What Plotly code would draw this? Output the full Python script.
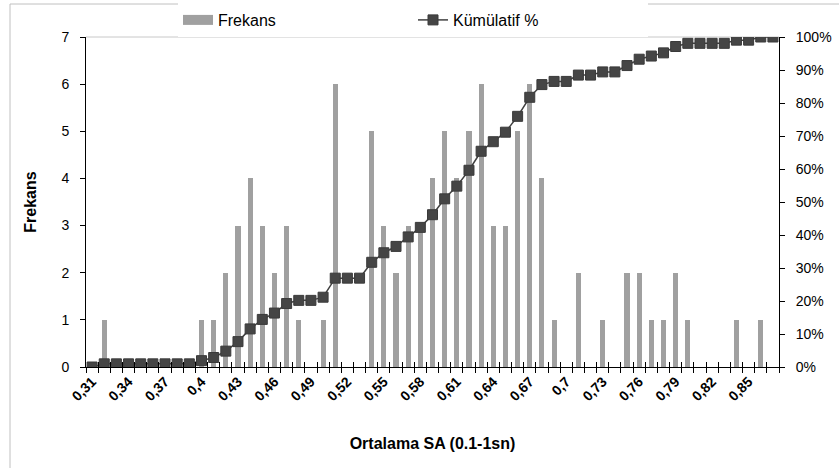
import plotly.graph_objects as go

# ---- data ----
categories = ["0,31", "0,32", "0,33", "0,34", "0,35", "0,36", "0,37", "0,38", "0,39", "0,4",
              "0,41", "0,42", "0,43", "0,44", "0,45", "0,46", "0,47", "0,48", "0,49", "0,5",
              "0,51", "0,52", "0,53", "0,54", "0,55", "0,56", "0,57", "0,58", "0,59", "0,6",
              "0,61", "0,62", "0,63", "0,64", "0,65", "0,66", "0,67", "0,68", "0,69", "0,7",
              "0,71", "0,72", "0,73", "0,74", "0,75", "0,76", "0,77", "0,78", "0,79", "0,8",
              "0,81", "0,82", "0,83", "0,84", "0,85", "0,86", "0,87"]
frekans = [0, 1, 0, 0, 0, 0, 0, 0, 0, 1,
           1, 2, 3, 4, 3, 2, 3, 1, 0, 1,
           6, 0, 0, 5, 3, 2, 3, 3, 4, 5,
           4, 5, 6, 3, 3, 5, 6, 4, 1, 0,
           2, 0, 1, 0, 2, 2, 1, 1, 2, 1,
           0, 0, 0, 1, 0, 1, 0]
kumulatif = [0.00, 0.96, 0.96, 0.96, 0.96, 0.96, 0.96, 0.96, 0.96, 1.92,
             2.88, 4.81, 7.69, 11.54, 14.42, 16.35, 19.23, 20.19, 20.19, 21.15,
             26.92, 26.92, 26.92, 31.73, 34.62, 36.54, 39.42, 42.31, 46.15, 50.96,
             54.81, 59.62, 65.38, 68.27, 71.15, 75.96, 81.73, 85.58, 86.54, 86.54,
             88.46, 88.46, 89.42, 89.42, 91.35, 93.27, 94.23, 95.19, 97.12, 98.08,
             98.08, 98.08, 98.08, 99.04, 99.04, 100.00, 100.00]
label_step = 3
y_ticks = [0, 1, 2, 3, 4, 5, 6, 7]
pct_ticks = [0, 10, 20, 30, 40, 50, 60, 70, 80, 90, 100]
pct_labels = [f"{v}%" for v in pct_ticks]

# ---- layout constants ----
W, H = 839, 468
ML, MR, MT, MB = 86, 60, 37, 101
PW, PH = W - ML - MR, H - MT - MB
FONT = "Arial, Liberation Sans, sans-serif"
BAR_COLOR = "#a0a0a0"
LINE_COLOR = "#404040"

idx = list(range(len(categories)))
label_pos = idx[::label_step]
label_txt = categories[::label_step]
boundaries = [i - 0.5 for i in range(len(categories) + 1)]
xrange = [-0.5, len(categories) - 0.5]

fig = go.Figure()
fig.add_trace(go.Bar(
    x=idx, y=frekans, name="Frekans", width=0.42, legendgroup="f",
    marker=dict(color=BAR_COLOR, line=dict(width=0)),
    showlegend=False, xaxis="x", yaxis="y",
))
# legend-only entry giving a wide grey swatch for the bars
fig.add_trace(go.Scatter(
    x=[None], y=[None], name="Frekans", mode="lines", legendgroup="f",
    line=dict(color=BAR_COLOR, width=12), xaxis="x", yaxis="y",
    hoverinfo="skip",
))
fig.add_trace(go.Scatter(
    x=idx, y=kumulatif, name="Kümülatif %", mode="lines+markers",
    line=dict(color=LINE_COLOR, width=1.5),
    marker=dict(symbol="square", size=10, color="#454545",
                line=dict(color="#3a3a3a", width=1)),
    xaxis="x", yaxis="y2",
))
# helper (invisible) trace for the inner half of the category ticks
fig.add_trace(go.Scatter(x=[None], y=[None], xaxis="x2", yaxis="y",
                         showlegend=False, hoverinfo="skip"))

fig.update_layout(
    width=W, height=H,
    margin=dict(l=ML, r=MR, t=MT, b=MB, autoexpand=False),
    paper_bgcolor="white", plot_bgcolor="white",
    font=dict(family=FONT, size=14, color="black"),
    bargap=0,
    showlegend=True,
    legend=dict(orientation="h", x=(178 - ML) / PW, xanchor="left",
                y=1 + 17 / PH, yanchor="middle",
                bgcolor="white", font=dict(size=16, family=FONT),
                entrywidth=190, entrywidthmode="pixels",
                traceorder="normal"),
    xaxis=dict(
        range=xrange, tickmode="array", tickvals=label_pos, ticktext=label_txt,
        tickangle=-45, tickfont=dict(size=14, family=FONT, weight="bold"),
        ticks="", showgrid=False, zeroline=False, automargin=False,
        showline=True, linecolor="black", linewidth=1,
        minor=dict(tickmode="array", tickvals=boundaries, ticks="outside",
                   ticklen=5, tickwidth=1, tickcolor="black", showgrid=False),
        title=dict(text="<b>Ortalama SA (0.1-1sn)</b>",
                   font=dict(size=16, family=FONT), standoff=34),
    ),
    xaxis2=dict(
        range=xrange, overlaying="x", side="bottom", anchor="y",
        tickmode="array", tickvals=boundaries, ticks="inside", ticklen=5,
        tickwidth=1, tickcolor="black", showticklabels=False, automargin=False,
        showgrid=False, zeroline=False, showline=False,
    ),
    yaxis=dict(
        range=[0, 7], tickmode="array", tickvals=y_ticks,
        ticks="outside", ticklen=5, tickcolor="black", automargin=False,
        ticklabelstandoff=8,
        showgrid=False, zeroline=False,
        showline=True, linecolor="black", linewidth=1,
        tickfont=dict(size=14, family=FONT),
        title=dict(text="<b>Frekans</b>", font=dict(size=16, family=FONT),
                   standoff=20),
    ),
    yaxis2=dict(
        range=[0, 100], overlaying="y", side="right",
        tickmode="array", tickvals=pct_ticks, ticktext=pct_labels,
        ticks="outside", ticklen=5, tickcolor="black", automargin=False,
        ticklabelstandoff=8,
        showgrid=False, zeroline=False,
        showline=True, linecolor="black", linewidth=1,
        tickfont=dict(size=14, family=FONT),
    ),
    shapes=[
        # light grey plot-area top edge
        dict(type="line", xref="paper", yref="paper", x0=0, x1=1, y0=1, y1=1,
             line=dict(color="#c8c8c8", width=1), layer="below"),
        # outer chart-area border (only top and left edges are inside the canvas)
        dict(type="rect", xref="paper", yref="paper",
             x0=(10 - ML) / PW, x1=(W + 20 - ML) / PW,
             y0=-(MB + 20) / PH, y1=1 + (MT - 4) / PH,
             line=dict(color="#c0c0c0", width=1), layer="below"),
    ],
)

fig.write_html("out.html",
               config={"displayModeBar": False},
               post_script="document.body.style.margin='0';"
                           "document.body.style.overflow='hidden';")
